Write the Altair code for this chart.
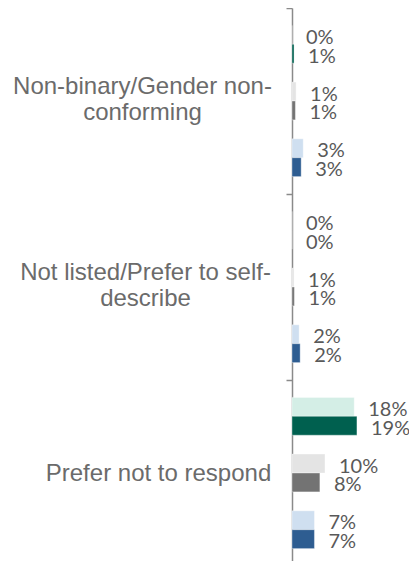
import json
import altair as alt
import pandas as pd

# ---- data ----
categories = [
    "Non-binary/Gender non-conforming",
    "Not listed/Prefer to self-describe",
    "Prefer not to respond",
]
category_lines = [
    ["Non-binary/Gender non-", "conforming"],
    ["Not listed/Prefer to self-", "describe"],
    ["Prefer not to respond"],
]
series = ["A1", "A2", "B1", "B2", "C1", "C2"]
series_colors = ["#d4eee6", "#00604f", "#e4e4e4", "#737373", "#cfdff0", "#2e5d91"]

a1 = [0.000, 0.000, 0.183]
a2 = [0.006, 0.000, 0.191]
b1 = [0.012, 0.006, 0.097]
b2 = [0.010, 0.007, 0.082]
c1 = [0.033, 0.021, 0.066]
c2 = [0.027, 0.024, 0.066]

values_by_series = [a1, a2, b1, b2, c1, c2]
slot_order = ["A1", "A2", "gap1", "B1", "B2", "gap2", "C1", "C2"]

rows = []
for s, vals in zip(series, values_by_series):
    for c, v in zip(categories, vals):
        rows.append({"category": c, "series": s, "value": v})
df = pd.DataFrame(rows)

# multi-line axis labels
expr = ""
for c, lines in zip(categories, category_lines):
    expr += f"datum.value == {json.dumps(c)} ? {json.dumps(lines)} : "
expr += "datum.label"

pad_cond = {
    "condition": [
        {"test": f"datum.value == {json.dumps(categories[1])}", "value": 141},
        {"test": f"datum.value == {json.dumps(categories[2])}", "value": 128},
    ],
    "value": 144,
}
offset_cond = {
    "condition": [
        {"test": f"datum.value == {json.dumps(categories[2])}", "value": 0},
    ],
    "value": -15,
}

y_enc = alt.Y(
    "category:N",
    sort=categories,
    title=None,
    scale=alt.Scale(paddingInner=0, paddingOuter=0),
    axis=alt.Axis(
        labelExpr=expr,
        labelAlign="center",
        labelBaseline="middle",
        labelPadding=pad_cond,
        labelOffset=offset_cond,
        labelFont="Liberation Sans",
        labelFontSize=24,
        labelColor="#6b6b6b",
        labelLineHeight=26,
        labelLimit=500,
        tickBand="extent",
        tickSize=6,
        tickColor="#8a8a8a",
        tickWidth=1.5,
        domainColor="#8a8a8a",
        domainWidth=1.5,
        grid=False,
    ),
)
yoff_enc = alt.YOffset(
    "series:N",
    scale=alt.Scale(domain=slot_order, paddingInner=0, paddingOuter=0.92),
)
x_enc = alt.X("value:Q", axis=None, scale=alt.Scale(domain=[0, 0.2], nice=False))

bars = alt.Chart(df).mark_bar(stroke="white", strokeWidth=0.6, strokeOpacity=0.6).encode(
    y=y_enc,
    yOffset=yoff_enc,
    x=x_enc,
    color=alt.Color(
        "series:N",
        scale=alt.Scale(domain=series, range=series_colors),
        legend=None,
    ),
)

labels = alt.Chart(df).mark_text(
    align="left",
    baseline="alphabetic",
    dx=14,
    dy=9,
    font="Lato",
    fontSize=20,
    color="#595959",
).encode(
    y=y_enc,
    yOffset=yoff_enc,
    x=x_enc,
    text=alt.Text("value:Q", format=".0%"),
)

chart = (
    alt.layer(bars, labels)
    .properties(
        width=68,
        height=558,
        autosize=alt.AutoSizeParams(type="none"),
        padding={"left": 284, "top": 0, "right": 49, "bottom": 0},
        background="white",
    )
    .configure_view(stroke=None)
)

chart.save("out.html", embed_options={"renderer": "svg", "actions": False})
